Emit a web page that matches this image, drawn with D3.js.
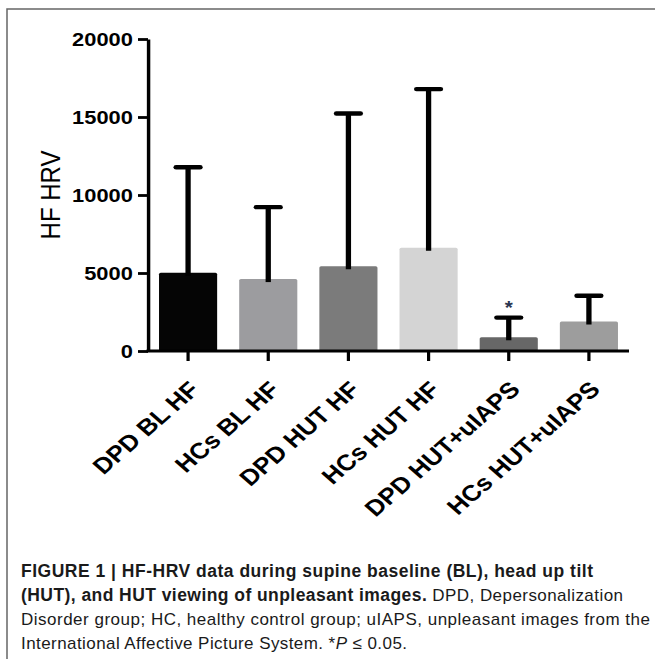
<!DOCTYPE html>
<html>
<head>
<meta charset="utf-8">
<script src="https://cdn.jsdelivr.net/npm/d3@7"></script>
<style>
  body { margin: 0; background: #fff; }
  svg { display: block; }
</style>
</head>
<body>
<div id="chart"></div>
<script>
// data
const categories = ["DPD BL HF", "HCs BL HF", "DPD HUT HF", "HCs HUT HF", "DPD HUT+uIAPS", "HCs HUT+uIAPS"];
const means = [5010, 4610, 5430, 6620, 880, 1890];
const sd = [6770, 4610, 9790, 10170, 1260, 1650];
const barColors = ["#050505", "#9c9c9f", "#7b7b7b", "#d4d4d4", "#676767", "#9d9d9d"];
const yTicks = [0, 5000, 10000, 15000, 20000];
const starred = ["DPD HUT+uIAPS"];

const settings = {
  width: 655,
  height: 659,
  stretch: 1.15, // the figure in the paper is a bit wider than tall
  left: 148,
  right: 629,
  top: 39,
  bottom: 351,
  font: "'Liberation Sans', Arial, Helvetica, sans-serif"
}

let svg;

const initSvgCanvas = function(w, h) {
  svg = d3.select("#chart").append("svg")
    .attr("width", w)
    .attr("height", h);
  return svg;
}

const drawFrame = function() {
  svg.append("path")
    .attr("d", "M7,659 L7,9 L655,9")
    .attr("fill", "none")
    .attr("stroke", "#666")
    .attr("stroke-width", 1.5);
}

const drawChart = function() {
  const s = settings.stretch;
  const g = svg.append("g").attr("transform", `scale(${s},1)`);

  const x = d3.scaleBand()
    .domain(categories)
    .range([settings.left / s, settings.right / s])
    .paddingInner(0.275)
    .paddingOuter(0.1375);

  const y = d3.scaleLinear()
    .domain([0, 20000])
    .range([settings.bottom, settings.top]);

  // bars
  g.selectAll("rect.bar")
    .data(categories)
    .join("rect")
    .attr("class", "bar")
    .attr("x", d => x(d))
    .attr("width", x.bandwidth())
    .attr("y", (d, i) => y(means[i]))
    .attr("height", (d, i) => y(0) - y(means[i]))
    .attr("rx", 1.5)
    .attr("fill", (d, i) => barColors[i]);

  // upper error bars
  const cx = d => x(d) + x.bandwidth() / 2;
  g.selectAll("line.err")
    .data(categories)
    .join("line")
    .attr("class", "err")
    .attr("x1", cx).attr("x2", cx)
    .attr("y1", (d, i) => y(means[i]) + 3)
    .attr("y2", (d, i) => y(means[i] + sd[i]))
    .attr("stroke", "#000")
    .attr("stroke-width", 4.6);

  g.selectAll("line.cap")
    .data(categories)
    .join("line")
    .attr("class", "cap")
    .attr("x1", d => cx(d) - 10.5)
    .attr("x2", d => cx(d) + 10.5)
    .attr("y1", (d, i) => y(means[i] + sd[i]))
    .attr("y2", (d, i) => y(means[i] + sd[i]))
    .attr("stroke", "#000")
    .attr("stroke-width", 4.4)
    .attr("stroke-linecap", "round");

  // significance mark
  g.selectAll("text.star")
    .data(starred)
    .join("text")
    .attr("class", "star")
    .attr("x", cx)
    .attr("y", d => y(means[categories.indexOf(d)] + sd[categories.indexOf(d)]) - 4)
    .attr("text-anchor", "middle")
    .attr("font-family", settings.font)
    .attr("font-weight", "bold")
    .attr("font-size", 18)
    .attr("fill", "#2a3550")
    .text("*");

  // y axis
  const yAxis = g.append("g")
    .attr("transform", `translate(${settings.left / s},0)`)
    .call(d3.axisLeft(y).tickValues(yTicks).tickSize(8.7).tickSizeOuter(0).tickPadding(4.5).tickFormat(d3.format("d")));
  yAxis.select(".domain").attr("stroke", "#000").attr("stroke-width", 3);
  yAxis.selectAll(".tick line").attr("stroke", "#000").attr("stroke-width", 2.8);
  yAxis.selectAll(".tick text")
    .attr("font-family", settings.font)
    .attr("font-weight", "bold")
    .attr("font-size", 19)
    .attr("fill", "#000");

  // x axis
  const xAxis = g.append("g")
    .attr("transform", `translate(0,${settings.bottom})`)
    .call(d3.axisBottom(x).tickSize(10).tickSizeOuter(0));
  xAxis.select(".domain").attr("stroke", "#000").attr("stroke-width", 3)
    .attr("d", `M${settings.left / s - 1.3},0H${settings.right / s}`);
  xAxis.selectAll(".tick line").attr("stroke", "#000").attr("stroke-width", 2.8);
  xAxis.selectAll(".tick text")
    .attr("font-family", settings.font)
    .attr("font-weight", "bold")
    .attr("font-size", 22.5)
    .attr("fill", "#000")
    .attr("text-anchor", "end")
    .attr("y", 0)
    .attr("dy", 0)
    .attr("transform", "translate(11,40) rotate(-45)");

  // y label
  g.append("text")
    .attr("transform", `translate(${50 / s},195) rotate(-90)`)
    .attr("text-anchor", "middle")
    .attr("dy", "0.35em")
    .attr("font-family", settings.font)
    .attr("font-size", 24)
    .attr("fill", "#000")
    .text("HF HRV");
}

const drawCaption = function() {
  const cap = svg.append("g")
    .attr("font-family", "'Liberation Sans', Arial, Helvetica, sans-serif")
    .attr("font-size", 17)
    .attr("fill", "#1a1a1a");

  cap.append("text").attr("x", 21).attr("y", 577)
    .attr("font-weight", "bold").attr("font-size", 17.5).attr("textLength", 572)
    .text("FIGURE 1 | HF-HRV data during supine baseline (BL), head up tilt");

  const l2 = cap.append("text").attr("x", 21).attr("y", 601).attr("textLength", 602);
  l2.append("tspan").attr("font-weight", "bold").attr("font-size", 17.5).text("(HUT), and HUT viewing of unpleasant images.");
  l2.append("tspan").text(" DPD, Depersonalization");

  cap.append("text").attr("x", 21).attr("y", 625).attr("textLength", 629)
    .text("Disorder group; HC, healthy control group; uIAPS, unpleasant images from the");

  const l4 = cap.append("text").attr("x", 21).attr("y", 649).attr("textLength", 386);
  l4.append("tspan").text("International Affective Picture System. *");
  l4.append("tspan").attr("font-style", "italic").text("P");
  l4.append("tspan").text(" \u2264 0.05.");
}

initSvgCanvas(settings.width, settings.height);
drawFrame();
drawChart();
drawCaption();
</script>
</body>
</html>
